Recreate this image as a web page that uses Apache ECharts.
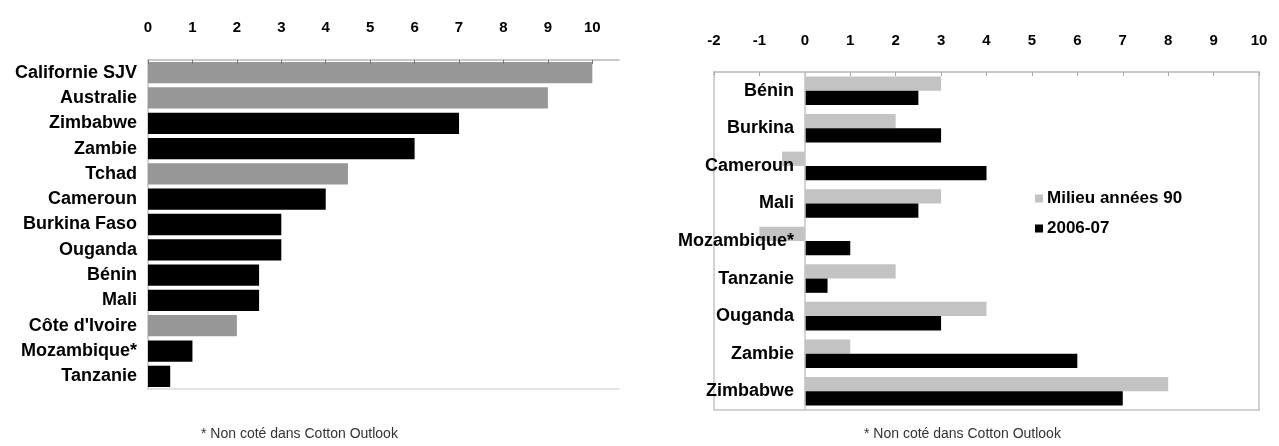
<!DOCTYPE html>
<html>
<head>
<meta charset="utf-8">
<script src="https://cdn.jsdelivr.net/npm/echarts@6/dist/echarts.min.js"></script>
<style>
  html, body { margin: 0; padding: 0; background: #fff; }
  #chart { width: 1279px; height: 446px; }
</style>
</head>
<body>
<div id="chart"></div>
<script>
// Left panel: yield by producer (single series, colour marks the group)
const leftCategories = ['Californie SJV', 'Australie', 'Zimbabwe', 'Zambie', 'Tchad', 'Cameroun',
  'Burkina Faso', 'Ouganda', 'Bénin', 'Mali', "Côte d'Ivoire", 'Mozambique*', 'Tanzanie'];
const leftValues = [10, 9, 7, 6, 4.5, 4, 3, 3, 2.5, 2.5, 2, 1, 0.5];
const leftGrey = [true, true, false, false, true, false, false, false, false, false, true, false, false];

// Right panel: two periods per country
const rightCategories = ['Bénin', 'Burkina', 'Cameroun', 'Mali', 'Mozambique*', 'Tanzanie', 'Ouganda', 'Zambie', 'Zimbabwe'];
const seriesMid90 = [3, 2, -0.5, 3, -1, 2, 4, 1, 8];
const series2006 = [2.5, 3, 4, 2.5, 1, 0.5, 3, 6, 7];
const seriesNames = ['Milieu années 90', '2006-07'];

const footnote = '* Non coté dans Cotton Outlook';

const FONT = 'Liberation Sans, Arial, sans-serif';
const tickLabel = {
  fontFamily: FONT, fontWeight: 'bold', fontSize: 15, color: '#000',
  formatter: v => (Number.isInteger(v) ? String(v) : '')
};

const chart = echarts.init(document.getElementById('chart'), null, { renderer: 'canvas' });

chart.setOption({
  animation: false,
  backgroundColor: '#fff',
  legend: {
    orient: 'vertical',
    left: 1030, top: 185,
    icon: 'rect', itemWidth: 8, itemHeight: 8, itemGap: 13,
    data: seriesNames,
    textStyle: { fontFamily: FONT, fontWeight: 'bold', fontSize: 17, color: '#000', padding: [0, 0, 0, -1] }
  },
  grid: [
    { left: 148, top: 60, width: 471, height: 329, show: false },
    { left: 714, top: 72, width: 545, height: 338, show: true, borderColor: '#c4c4c4', borderWidth: 1.5 }
  ],
  xAxis: [
    {
      gridIndex: 0, type: 'value', position: 'top', min: 0, max: 10.6, interval: 1, z: 5,
      axisLine: { show: true, lineStyle: { color: '#b8b8b8', width: 1.5 } },
      axisTick: { show: true, inside: true, length: 4, lineStyle: { color: '#777' } },
      axisLabel: Object.assign({ margin: 25, showMaxLabel: false }, tickLabel),
      splitLine: { show: false }
    },
    {
      gridIndex: 0, type: 'value', position: 'bottom', min: 0, max: 10.6, interval: 1,
      axisLine: { show: true, lineStyle: { color: '#dcdcdc', width: 1.5 } },
      axisTick: { show: false }, axisLabel: { show: false }, splitLine: { show: false }
    },
    {
      gridIndex: 1, type: 'value', position: 'top', min: -2, max: 10, interval: 1, z: 5,
      axisLine: { show: true, lineStyle: { color: '#c4c4c4', width: 1.5 } },
      axisTick: { show: true, inside: true, length: 4, lineStyle: { color: '#aaa' } },
      axisLabel: Object.assign({ margin: 24 }, tickLabel),
      splitLine: { show: false }
    }
  ],
  yAxis: [
    {
      gridIndex: 0, type: 'category', inverse: true, data: leftCategories,
      axisLine: { show: true, lineStyle: { color: '#c4c4c4', width: 1.5 } },
      axisTick: { show: false },
      axisLabel: { margin: 11, fontFamily: FONT, fontWeight: 'bold', fontSize: 18, color: '#000' }
    },
    {
      // the labels sit inside the frame, just left of the zero line, above the bars
      gridIndex: 1, type: 'category', inverse: true, data: rightCategories, z: 10,
      axisLine: { show: true, onZero: true, lineStyle: { color: '#c4c4c4', width: 1.5 } },
      axisTick: { show: false },
      axisLabel: { margin: -80, fontFamily: FONT, fontWeight: 'bold', fontSize: 18, color: '#000' }
    }
  ],
  series: [
    {
      type: 'bar', xAxisIndex: 0, yAxisIndex: 0, barCategoryGap: '16%',
      data: leftValues.map((v, i) => ({ value: v, itemStyle: { color: leftGrey[i] ? '#979797' : '#000' } }))
    },
    {
      name: seriesNames[0], type: 'bar', xAxisIndex: 2, yAxisIndex: 1,
      barGap: '0%', barCategoryGap: '24%', itemStyle: { color: '#c3c3c3' }, data: seriesMid90
    },
    {
      name: seriesNames[1], type: 'bar', xAxisIndex: 2, yAxisIndex: 1,
      barGap: '0%', barCategoryGap: '24%', itemStyle: { color: '#000' }, data: series2006
    }
  ],
  graphic: [
    { type: 'text', left: 201, top: 427, style: { text: footnote, fontFamily: FONT, fontSize: 14, fill: '#333' } },
    { type: 'text', left: 864, top: 427, style: { text: footnote, fontFamily: FONT, fontSize: 14, fill: '#333' } }
  ]
});
</script>
</body>
</html>
